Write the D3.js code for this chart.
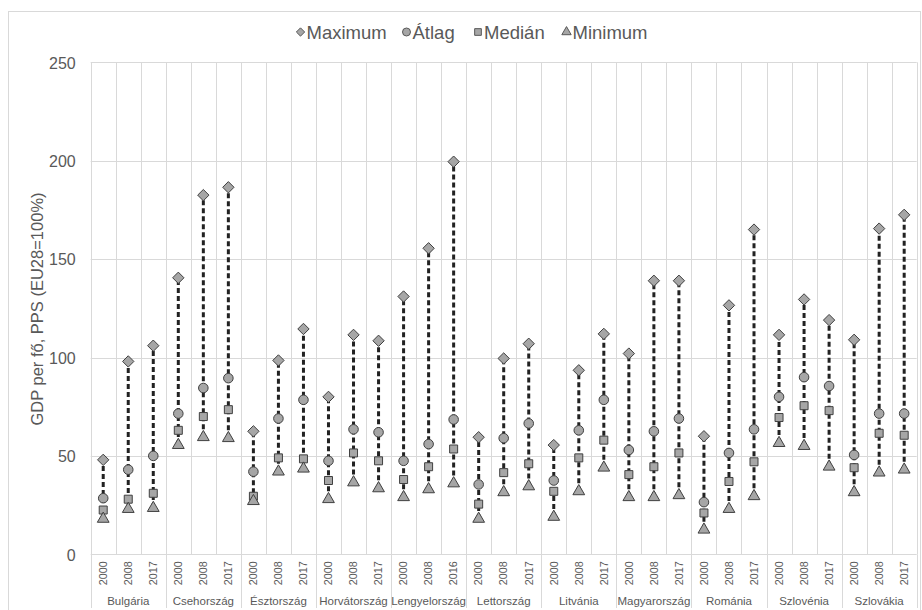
<!DOCTYPE html>
<html>
<head>
<meta charset="utf-8">
<script src="https://cdn.jsdelivr.net/npm/d3@7/dist/d3.min.js"></script>
<style>
  html, body { margin: 0; padding: 0; background: #fff; }
  svg { display: block; }
  text { font-family: "Liberation Sans", Arial, sans-serif; fill: #595959; }
</style>
</head>
<body>
<svg id="chart" width="922" height="610"></svg>
<script>
// ---- data ----
const countries = ["Bulgária", "Csehország", "Észtország", "Horvátország", "Lengyelország",
  "Lettország", "Litvánia", "Magyarország", "Románia", "Szlovénia", "Szlovákia"];
const years = [
  ["2000", "2008", "2017"], ["2000", "2008", "2017"], ["2000", "2008", "2017"],
  ["2000", "2008", "2017"], ["2000", "2008", "2016"], ["2000", "2008", "2017"],
  ["2000", "2008", "2017"], ["2000", "2008", "2017"], ["2000", "2008", "2017"],
  ["2000", "2008", "2017"], ["2000", "2008", "2017"]
];
const maxVals = [48, 98, 106, 140.5, 182.5, 186.5, 62.5, 98.5, 114.5, 80, 111.5, 108.5,
  131, 155.5, 199.5, 59.5, 99.5, 107, 55.5, 93.5, 112, 102, 139, 139,
  60, 126.5, 165, 111.5, 129.5, 119, 109, 165.5, 172.5];
const avgVals = [28.5, 43, 50, 71.5, 84.5, 89.5, 42, 69, 78.5, 47.5, 63.5, 62,
  47.5, 56, 68.5, 35.5, 59, 66.5, 37.5, 63, 78.5, 53, 62.5, 69,
  26.5, 51.5, 63.5, 80, 90, 85.5, 50.5, 71.5, 71.5];
const medVals = [22.5, 28, 31, 63, 70, 73.5, 29.5, 49, 48.5, 37.5, 51.5, 47.5,
  38, 44.5, 53.5, 25.5, 41.5, 46, 32, 49, 58, 40.5, 44.5, 51.5,
  21, 37, 47, 69.5, 75.5, 73, 44, 61.5, 60.5];
const minVals = [18, 23, 23.5, 55.5, 59.5, 59, 27, 42, 43.5, 28, 36.5, 33.5,
  29, 33, 36, 18, 31.5, 34.5, 19, 32, 44, 29, 29, 30,
  12.5, 23, 29.5, 56.5, 55, 44.5, 31.5, 41.5, 43];
const yTicks = [0, 50, 100, 150, 200, 250];
const seriesNames = ["Maximum", "Átlag", "Medián", "Minimum"];

// ---- build rows ----
const rows = [];
countries.forEach((c, ci) => years[ci].forEach((y, yi) => {
  const i = rows.length;
  rows.push({ key: c + "|" + y, country: c, year: y, ci,
    max: maxVals[i], avg: avgVals[i], med: medVals[i], min: minVals[i] });
}));

const svg = d3.select("#chart");
const L = 90.7, R = 916.7, T = 62.3, B = 554.3;

// outer frame
svg.append("rect").attr("x", 8.5).attr("y", 11.5).attr("width", 912).attr("height", 620)
  .attr("fill", "none").attr("stroke", "#d9d9d9").attr("stroke-width", 1);

const x = d3.scaleBand().domain(rows.map(d => d.key)).range([L, R]).padding(0);
const y = d3.scaleLinear().domain([0, 250]).range([B, T]);

const grid = svg.append("g");
grid.selectAll("line.h").data(yTicks).join("line")
  .attr("x1", L).attr("x2", R).attr("y1", d => Math.round(y(d)) + 0.5).attr("y2", d => Math.round(y(d)) + 0.5)
  .attr("stroke", "#d9d9d9").attr("stroke-width", 1);
const bounds = rows.map(d => x(d.key)).concat([R]);
grid.selectAll("line.v").data(bounds).join("line")
  .attr("x1", d => Math.round(d) + 0.5).attr("x2", d => Math.round(d) + 0.5)
  .attr("y1", T).attr("y2", B)
  .attr("stroke", "#d9d9d9").attr("stroke-width", 1);
const groupBounds = [L];
rows.forEach((d, i) => { if (i < rows.length - 1 && rows[i + 1].ci !== d.ci) groupBounds.push(x(rows[i + 1].key)); });
groupBounds.push(R);
grid.selectAll("line.g").data(groupBounds).join("line")
  .attr("x1", d => Math.round(d) + 0.5).attr("x2", d => Math.round(d) + 0.5)
  .attr("y1", B).attr("y2", 608)
  .attr("stroke", "#d9d9d9").attr("stroke-width", 1);

// y axis labels
const yAxis = d3.axisLeft(y).tickValues(yTicks).tickSize(0).tickPadding(0);
const ya = svg.append("g").attr("transform", `translate(${L - 15},0)`).call(yAxis);
ya.select(".domain").remove();
ya.selectAll("text").style("font-size", "16px").attr("fill", "#595959").attr("dy", "0.36em");

// y axis title
svg.append("text").attr("transform", `translate(43,309) rotate(-90)`)
  .attr("text-anchor", "middle").style("font-size", "16.5px").attr("fill", "#595959")
  .text("GDP per fő, PPS (EU28=100%)");

// x axis year labels
const xAxis = d3.axisBottom(x).tickFormat(k => k.split("|")[1]).tickSize(0).tickPadding(0);
const xa = svg.append("g").attr("transform", `translate(0,${B})`).call(xAxis);
xa.select(".domain").remove();
xa.selectAll("text").style("font-size", "10.8px").attr("fill", "#595959")
  .attr("transform", "rotate(-90)").attr("text-anchor", "end")
  .attr("x", -7).attr("y", 0).attr("dy", "0.35em");

// country labels
const groups = countries.map((c, ci) => {
  const r = rows.filter(d => d.ci === ci);
  return { c, cx: (x(r[0].key) + x(r[r.length - 1].key) + x.bandwidth()) / 2 };
});
svg.append("g").selectAll("text").data(groups).join("text")
  .attr("x", d => d.cx).attr("y", 604.5).attr("text-anchor", "middle")
  .style("font-size", "11.5px").attr("fill", "#595959").text(d => d.c);

// dashed range lines
const cx = d => x(d.key) + x.bandwidth() / 2;
svg.append("g").selectAll("line").data(rows).join("line")
  .attr("x1", cx).attr("x2", cx).attr("y1", d => y(d.min)).attr("y2", d => y(d.max))
  .attr("stroke", "#222").attr("stroke-width", 3).attr("stroke-dasharray", "5,3");

// markers
const symDiamond = d3.symbol().type(d3.symbolDiamond2).size(82)();
const symCircle = d3.symbol().type(d3.symbolCircle).size(72)();
const symSquare = d3.symbol().type(d3.symbolSquare).size(64)();
const symTriangle = d3.symbol().type(d3.symbolTriangle).size(60)();
const markers = [
  { key: "max", path: symDiamond },
  { key: "avg", path: symCircle },
  { key: "med", path: symSquare },
  { key: "min", path: symTriangle }
];
markers.forEach(m => {
  svg.append("g").selectAll("path").data(rows).join("path")
    .attr("d", m.path)
    .attr("transform", d => `translate(${cx(d)},${y(d[m.key])})`)
    .attr("fill", "#a6a6a6").attr("stroke", "#404040").attr("stroke-width", 1);
});

// legend
const legendPaths = [d3.symbol().type(d3.symbolDiamond2).size(44)(), d3.symbol().type(d3.symbolCircle).size(50)(),
  d3.symbol().type(d3.symbolSquare).size(45)(), d3.symbol().type(d3.symbolTriangle).size(38)()];
const legendX = [300.5, 406.5, 478, 566.5];
const lg = svg.append("g");
seriesNames.forEach((s, i) => {
  lg.append("path").attr("d", legendPaths[i]).attr("transform", `translate(${legendX[i]},32)`)
    .attr("fill", "#a6a6a6").attr("stroke", "#595959").attr("stroke-width", 1);
  lg.append("text").attr("x", legendX[i] + 6).attr("y", 32).attr("dy", "0.36em")
    .style("font-size", "18.5px").attr("fill", "#404040").text(s);
});
</script>
</body>
</html>
